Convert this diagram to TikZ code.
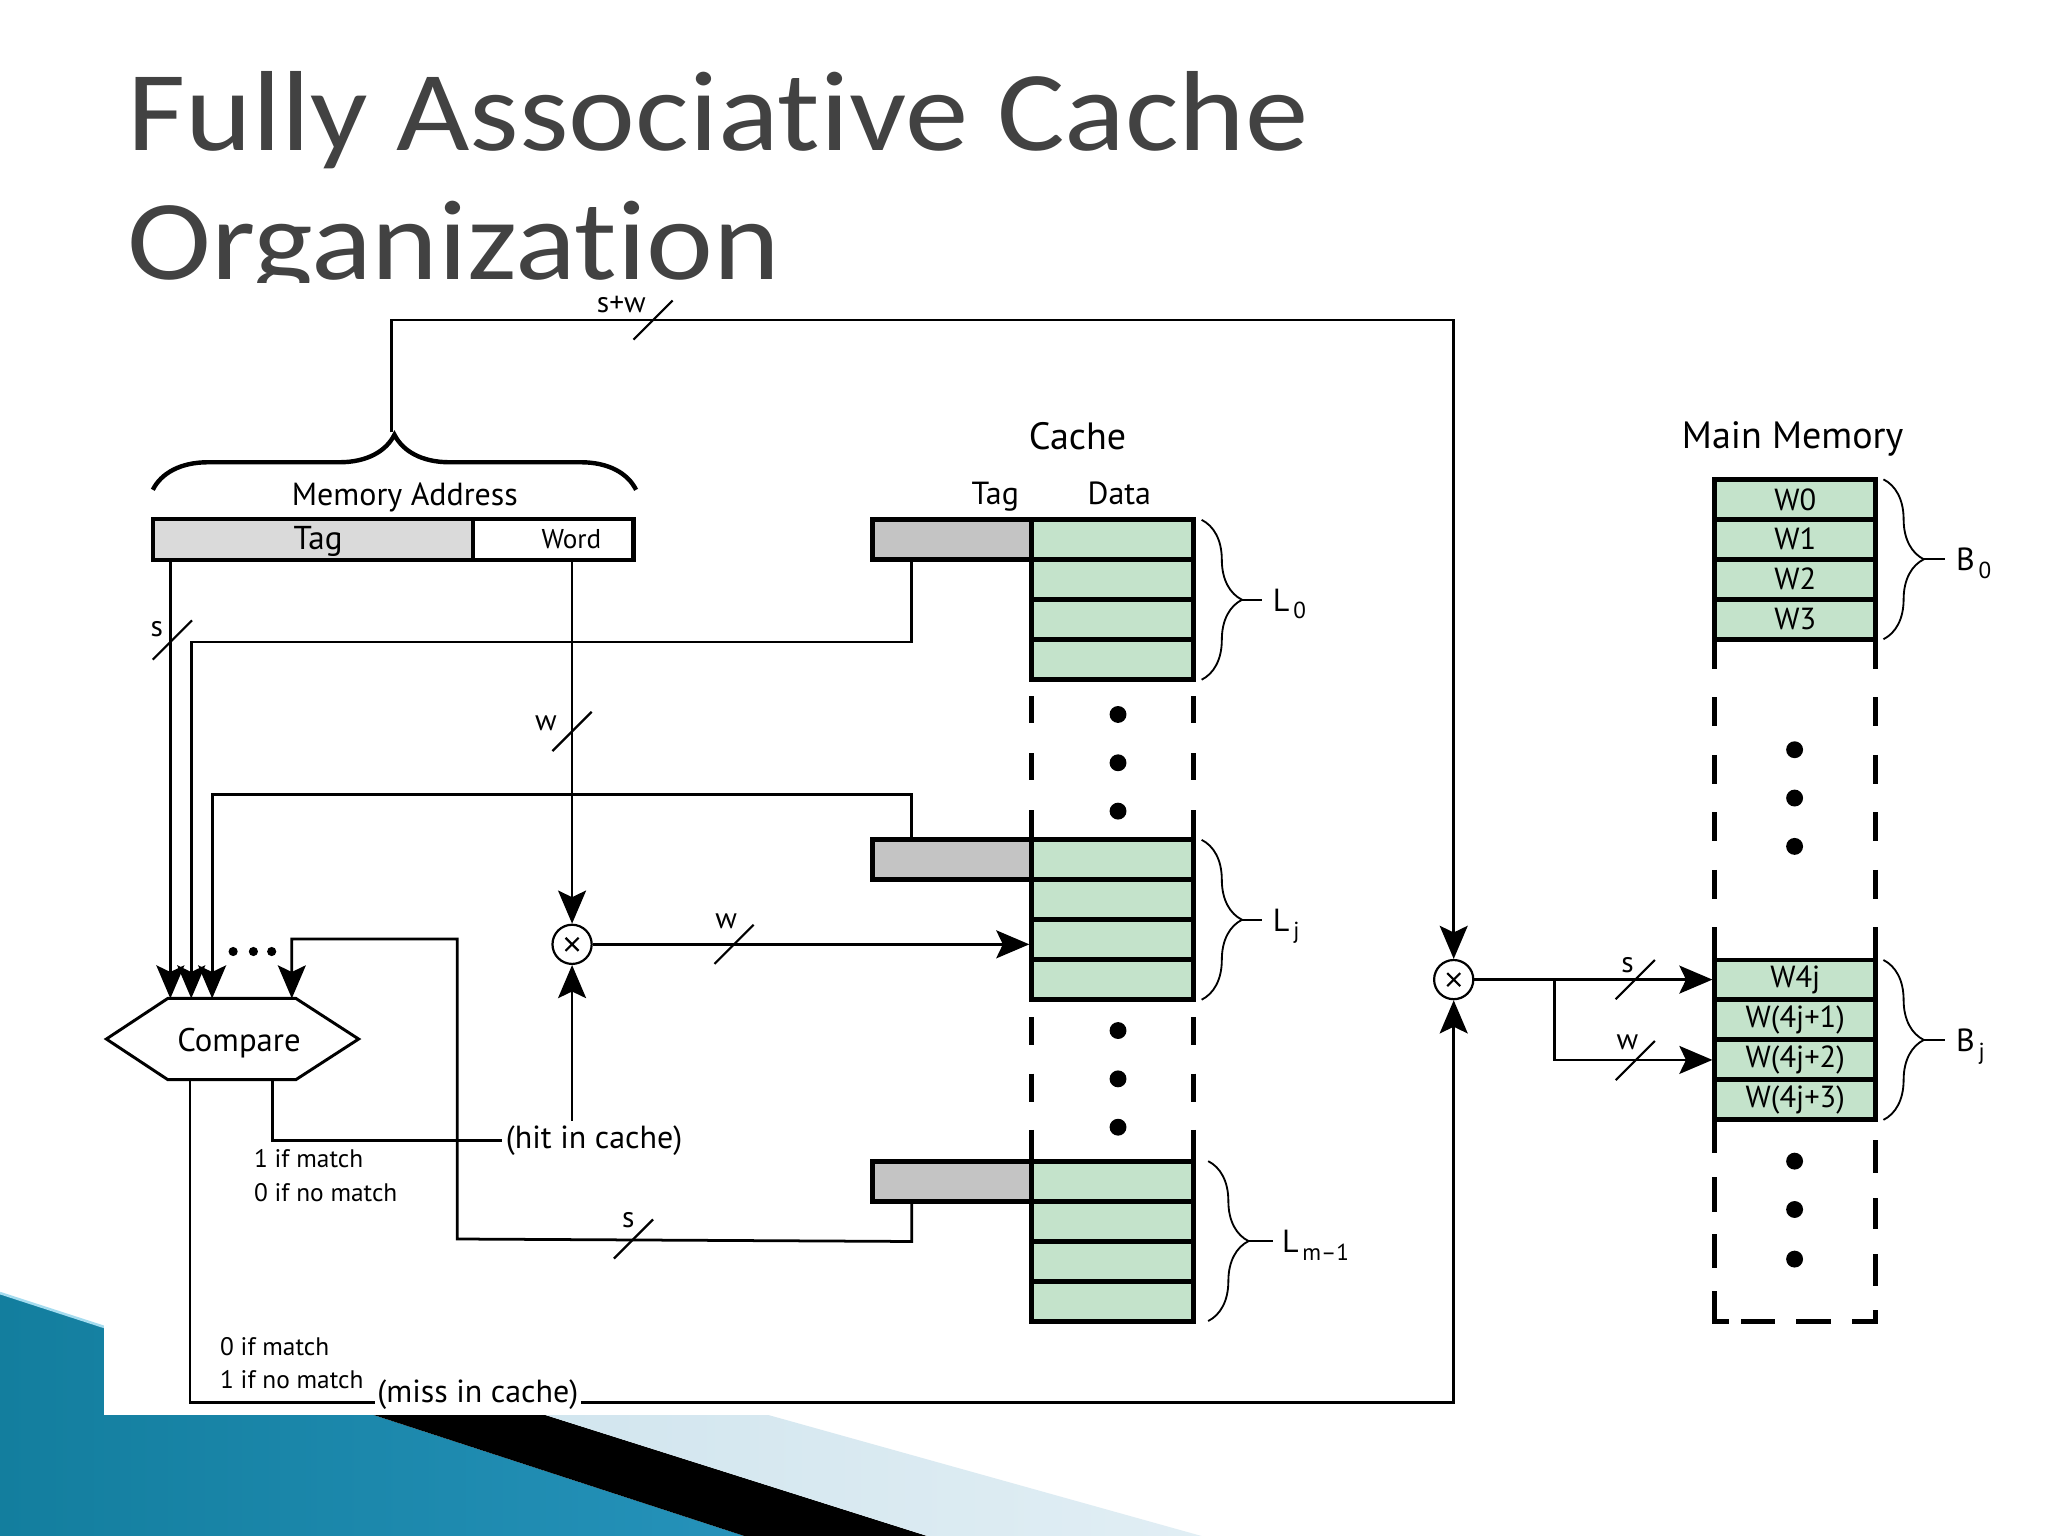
\documentclass[tikz,border=0pt]{standalone}
\usepackage{graphicx}
\usepackage{fontspec}
\setmainfont{PT Sans}
\newfontfamily\titlefont[Ligatures=NoCommon]{Carlito}
\usetikzlibrary{arrows.meta,decorations.pathreplacing,calc}
\definecolor{cellgreen}{HTML}{C4E3CB}
\definecolor{taggray}{HTML}{C4C4C4}
\definecolor{addrgray}{HTML}{DADADA}
\definecolor{titlegray}{HTML}{424242}
\definecolor{tealdark}{HTML}{137E9E}
\definecolor{teallight}{HTML}{5CC0E2}
\definecolor{tealmid}{HTML}{2592BA}
\definecolor{paleblue}{HTML}{C8E0EB}
\tikzset{
 conn/.style={line width=0.75pt},
 arr/.style={conn,-{Stealth[length=9pt,width=7.6pt,inset=1.8pt]}},
 cell/.style={draw,line width=1.35pt,fill=cellgreen,minimum width=1.55cm,minimum height=0.3825cm,inner sep=0pt,font=\fontsize{8.3}{9}\selectfont},
 memcell/.style={cell,minimum width=1.5375cm},
 tagcell/.style={draw,line width=1.35pt,fill=taggray,minimum width=1.525cm,minimum height=0.3825cm,inner sep=0pt},
 addr/.style={draw,line width=1.1pt,minimum height=0.4cm,inner sep=0pt},
 lbl/.style={inner sep=0pt,font=\fontsize{8.7}{10}\selectfont},
 head/.style={inner sep=0pt,font=\fontsize{10.35}{12}\selectfont},
 small/.style={inner sep=0pt,font=\fontsize{6.9}{8}\selectfont},
 buslbl/.style={inner sep=0pt,font=\fontsize{8}{9}\selectfont},
 xcirc/.style={draw,circle,line width=0.6pt,minimum size=0.375cm,inner sep=0pt},
 lbrace/.style={decorate,decoration={brace,amplitude=11pt},line width=0.5pt},
 thickdash/.style={line width=1.35pt},
 titletext/.style={anchor=base west,inner sep=0pt,font=\titlefont\fontsize{31}{31}\selectfont},
 bus/.pic={\draw[line width=0.6pt] (-15,15) -- (15,-15);},
}
\newcommand{\subl}[1]{\raisebox{-2.1pt}{\fontsize{6.3}{7}\selectfont\,#1}}
\begin{document}
\begin{tikzpicture}[x=0.0125cm,y=-0.0125cm]
\useasboundingbox (0,0) rectangle (1568,1176);
\fill[white] (0,0) rectangle (1568,1176);
% slide decoration
\shade[left color=tealdark,middle color=teallight,right color=tealmid] (0,990) -- (570,1176) -- (0,1176) -- cycle;
\fill[black] (100,982.75) -- (710,1176) -- (570,1176) -- (100,1022.6) -- cycle;
\shade[left color=paleblue,right color=paleblue!55!white] (100,947) -- (920,1176) -- (710,1176) -- (100,982.75) -- cycle;
\draw[teallight!55!white,line width=0.7pt] (0,990) -- (80,1016);
% title
\node[titletext,text=titlegray] (t1) at (97,115) {\scalebox{1.113}[1]{Fully Associative Cache}};
\node[titletext,text=titlegray] (t2) at (97,214) {\smash{\scalebox{1.113}[1]{Organization}}};
% diagram canvas
\fill[white] (80,217) rectangle (1568,1083);

% memory address
\node[addr,fill=addrgray,minimum width=3.0625cm] (tagA) at (239.5,413) {};
\node[addr,fill=white,minimum width=1.5375cm] (wordA) at (423.5,413) {};
\node[lbl,anchor=base,font=\fontsize{9}{10}\selectfont] (tagAt) at (243.5,421) {Tag};
\node[lbl,anchor=base,font=\fontsize{7.4}{9}\selectfont] (wordAt) at (437.5,419.6) {Word};
\draw[decorate,decoration={brace,amplitude=15pt},line width=1.2pt] (117,375) -- (487,375);
\coordinate (addrtip) at (300,331);
\node[lbl,anchor=base] (memaddr) at (310,386.7) {Memory Address};

% cache
\node[head,anchor=base] (cachet) at (825,344.5) {Cache};
\node[lbl,anchor=base] (ctag) at (762,386) {Tag};
\node[lbl,anchor=base] (cdata) at (857,386) {Data};
\foreach \n/\top in {0/398,j/643,m/889} {
  \node[tagcell] (t\n) at (729,{\top+15.3}) {};
  \foreach \k in {0,...,3} \node[cell] (d\n\k) at (852,{\top+15.3+30.6*\k}) {};
}
\foreach \x in {790,914} {
  \foreach \a/\b in {533/553.6,576.7/597.3,620.4/643,779/800,822/843.5,865/889}
    \draw[thickdash] (\x,\a) -- (\x,\b);
}
\foreach \y in {547,584,621,789,826,863} \fill (856,\y) circle (2.3pt);
\draw[lbrace] (920,398) -- (920,520.4);
\draw[line width=0.5pt] (951,459.2) -- (966,459.2);
\node[lbl,anchor=base west] (L0) at (974,468) {L\subl{0}};
\draw[lbrace] (920,643) -- (920,765.4);
\draw[line width=0.5pt] (951,704.2) -- (966,704.2);
\node[lbl,anchor=base west] (Lj) at (974,713) {L\subl{j}};
\draw[lbrace] (925,889) -- (925,1011.4);
\draw[line width=0.5pt] (956,950.2) -- (975,950.2);
\node[lbl,anchor=base west] (Lm) at (981,959) {L\subl{m–1}};

% main memory
\node[head,anchor=base] (mmt) at (1372.5,343) {Main Memory};
\foreach \k/\t in {0/W0,1/W1,2/W2,3/W3}
  \node[memcell] (a\k) at (1374.5,{367+15.3+30.6*\k}) {\t};
\foreach \k/\t in {0/W4j,1/W(4j+1),2/W(4j+2),3/W(4j+3)}
  \node[memcell] (b\k) at (1374.5,{735+15.3+30.6*\k}) {\t};
\foreach \x in {1313,1436} {
  \foreach \a/\b in {490/512,534/556,578/600,622/644,666/688,710/735}
    \draw[thickdash] (\x,\a) -- (\x,\b);
}
\foreach \a/\b in {858/881,903/926,947/969,990/1012}
  \draw[thickdash,line cap=rect] (1313,\a) -- (1313,\b);
\foreach \a/\b in {875/896,919/939,962/983,1005/1012}
  \draw[thickdash,line cap=rect] (1436,\a) -- (1436,\b);
\foreach \a/\b in {1313/1322,1335/1357,1377/1400,1420/1436}
  \draw[thickdash,line cap=rect] (\a,1012) -- (\b,1012);
\foreach \y in {574,611,648,889,926,964} \fill (1374,\y) circle (2.3pt);
\draw[lbrace] (1442,367) -- (1442,489.4);
\draw[line width=0.5pt] (1473,428.2) -- (1489,428.2);
\node[lbl,anchor=base west] (B0) at (1497,437) {B\subl{0}};
\draw[lbrace] (1442,735) -- (1442,857.4);
\draw[line width=0.5pt] (1473,796.2) -- (1489,796.2);
\node[lbl,anchor=base west] (Bj) at (1497,805) {B\subl{j}};

% compare
\node[inner sep=0pt,minimum width=1.2125cm,minimum height=0.7625cm] (cmp) at (177.5,795.5) {};
\draw[line width=0.8pt] (cmp.north west) -- (cmp.north east) -- ($(cmp.east)+(48,0)$) -- (cmp.south east) -- (cmp.south west) -- ($(cmp.west)+(-47,0)$) -- cycle;
\node[lbl,font=\fontsize{8.9}{10}\selectfont] (cmpt) at (183,799) {Compare};
\coordinate (in1) at ($(cmp.north west)+(3,0)$);
\coordinate (in2) at ($(cmp.north west)+(18,0)$);
\coordinate (in3) at ($(cmp.north west)+(34,0)$);
\coordinate (in4) at ($(cmp.north west)+(95,0)$);
\foreach \x in {178.5,194,208} \fill (\x,728.5) circle (1.25pt);

% circles
\node[xcirc] (c1) at (438,723) {};
\draw[line width=0.6pt] ($(c1)+(-5,-5)$) -- ($(c1)+(5,5)$) ($(c1)+(-5,5)$) -- ($(c1)+(5,-5)$);
\node[xcirc] (c2) at (1113,750) {};
\draw[line width=0.6pt] ($(c2)+(-5,-5)$) -- ($(c2)+(5,5)$) ($(c2)+(-5,5)$) -- ($(c2)+(5,-5)$);

% connectors
\draw[arr] (addrtip) -- (300,245) -| (c2);
\pic at (500,245) {bus};
\node[buslbl,anchor=base east] (swl) at (495,239) {s+w};

\coordinate (tagout) at ($(tagA.south west)+(15,0)$);
\draw[arr] (tagout) -- (tagout |- in1);
\pic at (132,490) {bus};
\node[buslbl] (sl1) at (120,482) {s};

\draw[arr] ($(t0.south west)+(32,0)$) -- ++(0,61) -| (in2);
\draw[arr] ($(tj.north west)+(32,0)$) -- ++(0,-33) -| (in3);
\draw[arr] ($(tm.south west)+(32,0)$) -- ++(0,29) -- (350,948.6) -- (350,719) -| (in4);
\pic at (485,948.6) {bus};
\node[buslbl] (sl2) at (481,934.5) {s};

\draw[arr] (c1 |- wordA.south) -- (c1);
\pic at (438,560) {bus};
\node[buslbl] (wl1) at (418,554) {w};

\draw[arr] (c1) -- (c1 -| dj2.west);
\pic at (562,723) {bus};
\node[buslbl] (wl2) at (556,705.5) {w};

\node[lbl,anchor=west,inner sep=1pt] (hit) at (384,873) {(hit in cache)};
\draw[conn] ($(cmp.south west)+(80,0)$) |- (hit.west);
\draw[arr] (hit.north -| c1) -- (c1);
\node[small,anchor=west] (m1) at (194,887) {1 if match};
\node[small,anchor=west] (m2) at (194,913) {0 if no match};

\node[lbl,anchor=base west,inner sep=0.5pt] (miss) at (287,1074) {(miss in cache)};
\draw[conn] ($(cmp.south west)+(17,0)$) |- (miss.base west);
\draw[arr] (miss.base east) -| (c2);
\node[small,anchor=west] (m3) at (168,1031) {0 if match};
\node[small,anchor=west] (m4) at (168,1056.5) {1 if no match};

\draw[arr] (c2) -- (c2 -| b0.west);
\coordinate (br) at (1190,750);
\draw[arr] (br) |- (b2.west);
\pic at (1252,750) {bus};
\node[buslbl] (sl3) at (1246,739) {s};
\pic at (1252,812) {bus};
\node[buslbl] (wl3) at (1246,798) {w};
\end{tikzpicture}
\end{document}
